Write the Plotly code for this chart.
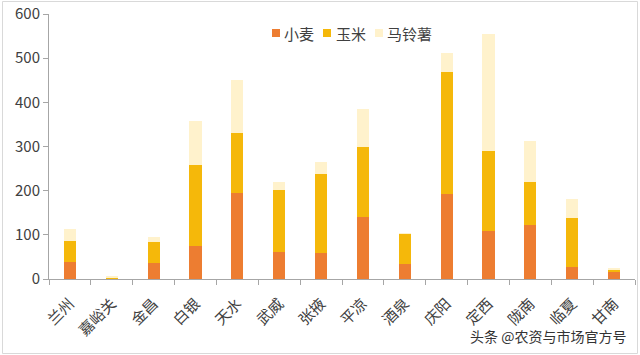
import plotly.graph_objects as go

cities = ["兰州", "嘉峪关", "金昌", "白银", "天水", "武威", "张掖", "平凉", "酒泉", "庆阳", "定西", "陇南", "临夏", "甘南"]
wheat = [39, 2, 37, 74, 195, 62, 60, 141, 33, 193, 108, 123, 28, 15]
corn = [48, 2, 47, 183, 135, 139, 177, 159, 70, 276, 181, 97, 111, 5]
potato = [27, 1, 10, 101, 120, 19, 28, 84, 1, 43, 265, 92, 42, 5]
y_ticks = [0, 100, 200, 300, 400, 500, 600]
series_names = ["小麦", "玉米", "马铃薯"]
colors = ["#ED7D31", "#F5B80A", "#FFF2CC"]

FONT = "Noto Sans CJK SC"
W, H = 640, 355
L, T, PW, PH = 49, 14, 586, 265


def px(x):
    return (x - L) / PW


def py(y):
    return (T + PH - y) / PH


fig = go.Figure()
for name, vals, col in zip(series_names, [wheat, corn, potato], colors):
    fig.add_trace(go.Bar(x=cities, y=vals, name=name, marker=dict(color=col, line=dict(width=0)),
                         width=0.29, showlegend=False))

# legend drawn as squares + text
leg_sq = [272, 323, 375]
leg_tx = [282, 334, 385]
shapes = [dict(type="rect", xref="paper", yref="paper", x0=px(2.5), x1=px(637.5), y0=py(353.5), y1=py(1.5),
               line=dict(color="#D9D9D9", width=1))]
annotations = []
for name, col, sx, tx in zip(series_names, colors, leg_sq, leg_tx):
    shapes.append(dict(type="rect", xref="paper", yref="paper", x0=px(sx), x1=px(sx + 8),
                       y0=py(37), y1=py(29), fillcolor=col, line=dict(width=0)))
    annotations.append(dict(text=name, xref="paper", yref="paper", x=px(tx), y=py(33), xanchor="left",
                            yanchor="middle", showarrow=False, font=dict(size=15, color="#404040", family=FONT)))
annotations.append(dict(text="头条 @农资与市场官方号", xref="paper", yref="paper", x=px(628), y=py(336),
                        xanchor="right", yanchor="middle", showarrow=False,
                        font=dict(size=14, color="#333333", family=FONT)))

fig.update_layout(
    barmode="stack",
    width=W, height=H,
    margin=dict(l=L, r=W - L - PW, t=T, b=H - T - PH),
    paper_bgcolor="white", plot_bgcolor="white",
    font=dict(family=FONT, size=15, color="#404040"),
    showlegend=False,
    xaxis=dict(showline=True, linecolor="#A6A6A6", linewidth=1, ticks="outside", ticklen=5,
               tickcolor="#A6A6A6", tickson="boundaries", tickangle=-45, showgrid=False, automargin=False,
               ticklabelstandoff=9, tickfont=dict(size=15, color="#404040")),
    yaxis=dict(range=[0, 600], tickvals=y_ticks, showline=True, linecolor="#A6A6A6", linewidth=1,
               ticks="outside", ticklen=5, tickcolor="#A6A6A6", showgrid=False, zeroline=False,
               automargin=False, tickfont=dict(size=15, color="#404040")),
    shapes=shapes,
    annotations=annotations,
)
fig.write_html("out.html", config={"displayModeBar": False},
               post_script="document.body.style.margin='0';")
